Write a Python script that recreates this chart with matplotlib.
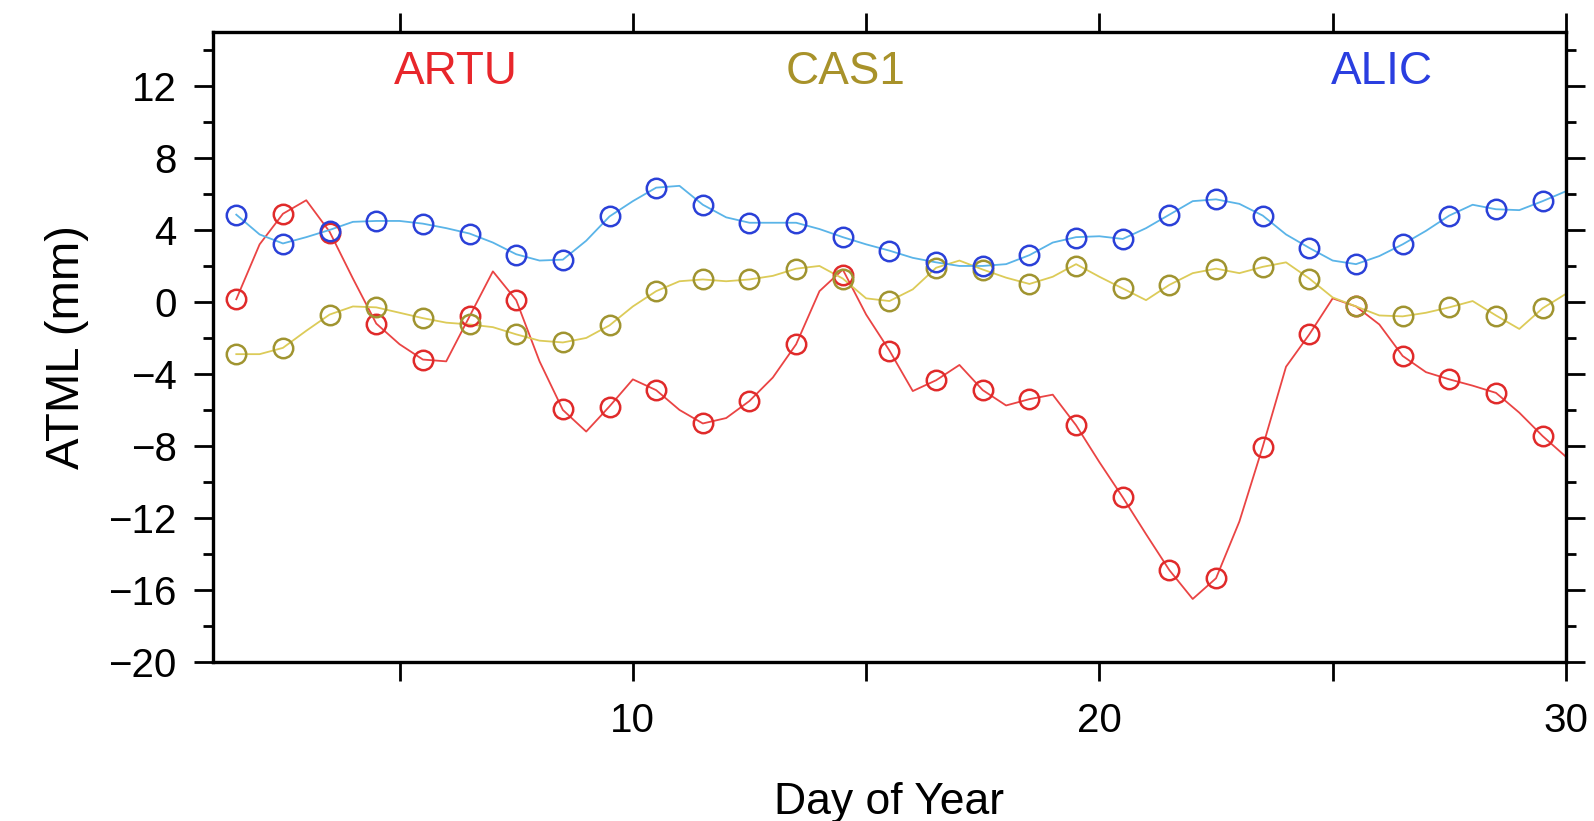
import numpy as np
import matplotlib
matplotlib.use('Agg')
import matplotlib.pyplot as plt
from matplotlib.ticker import MultipleLocator, FixedLocator

plt.rcParams['font.family'] = ['Liberation Sans', 'DejaVu Sans']

# === 数据 ===
# 日均值（圆圈），位于每天中午 1.5 ... 29.5
daily_days = np.arange(1.5, 30.0, 1.0)
artu_daily = [0.15, 4.9, 3.85, -1.25, -3.2, -0.8, 0.1, -5.95, -5.85, -4.9,
              -6.75, -5.5, -2.35, 1.5, -2.7, -4.35, -4.9, -5.4, -6.85, -10.85,
              -14.9, -15.35, -8.05, -1.8, -0.25, -3.0, -4.3, -5.05, -7.45]
cas1_daily = [-2.9, -2.55, -0.7, -0.3, -0.9, -1.25, -1.8, -2.25, -1.3, 0.6,
              1.25, 1.25, 1.85, 1.25, 0.05, 1.9, 1.8, 1.0, 2.0, 0.75,
              0.95, 1.85, 1.95, 1.25, -0.25, -0.8, -0.3, -0.8, -0.35]
alic_daily = [4.85, 3.2, 3.95, 4.5, 4.35, 3.8, 2.6, 2.35, 4.8, 6.35,
              5.4, 4.4, 4.4, 3.6, 2.85, 2.2, 2.0, 2.6, 3.55, 3.5,
              4.85, 5.7, 4.8, 3.0, 2.1, 3.2, 4.8, 5.15, 5.6]

# 连续曲线（半天间隔读取）
curve_days = np.arange(1.5, 30.01, 0.5)
artu_curve = [0.15, 3.2, 4.9, 5.65, 3.9, 1.3, -1.2, -2.35, -3.2, -3.3,
              -0.8, 1.7, 0.1, -3.3, -6.0, -7.2, -5.8, -4.3, -4.9, -6.0,
              -6.75, -6.45, -5.5, -4.2, -2.35, 0.6, 1.8, -0.7, -2.7, -4.95,
              -4.35, -3.5, -4.9, -5.75, -5.4, -5.15, -6.85, -8.9, -10.85, -12.9,
              -14.9, -16.5, -15.35, -12.2, -8.05, -3.6, -1.8, 0.2, -0.25, -1.25,
              -3.0, -3.9, -4.3, -4.65, -5.05, -6.15, -7.45, -8.6]
cas1_curve = [-2.9, -2.9, -2.55, -1.6, -0.7, -0.25, -0.3, -0.6, -0.9, -1.15,
              -1.25, -1.4, -1.8, -2.15, -2.25, -2.0, -1.3, -0.25, 0.6, 1.15,
              1.25, 1.15, 1.25, 1.45, 1.85, 2.0, 1.3, 0.2, 0.05, 0.7,
              1.9, 2.3, 1.8, 1.35, 1.0, 1.4, 2.1, 1.4, 0.75, 0.1,
              0.95, 1.6, 1.85, 1.6, 1.95, 2.2, 1.3, 0.25, -0.25, -0.75,
              -0.8, -0.6, -0.3, 0.05, -0.75, -1.5, -0.35, 0.45]
alic_curve = [4.85, 3.75, 3.25, 3.6, 4.0, 4.45, 4.5, 4.5, 4.35, 4.1,
              3.8, 3.3, 2.65, 2.3, 2.35, 3.4, 4.75, 5.6, 6.35, 6.45,
              5.4, 4.7, 4.4, 4.4, 4.4, 4.05, 3.6, 3.2, 2.85, 2.45,
              2.2, 2.0, 2.0, 2.1, 2.6, 3.3, 3.6, 3.65, 3.5, 4.1,
              4.85, 5.6, 5.7, 5.45, 4.8, 3.75, 3.0, 2.3, 2.1, 2.55,
              3.2, 3.95, 4.8, 5.4, 5.15, 5.1, 5.6, 6.15]

stations = ['ARTU', 'CAS1', 'ALIC']
label_pos = [(6.2, 12.8), (14.55, 12.8), (26.05, 12.8)]
text_colors = ['#e8262b', '#a8922a', '#2a3ee0']
marker_colors = ['#e02a2a', '#a09430', '#2a40d8']
line_colors = ['#ea4444', '#dccb58', '#5ab4e8']

# === 绘图 ===
fig = plt.figure(figsize=(15.94, 8.21), dpi=100)
ax = fig.add_axes([0.1336, 0.1937, 0.8488, 0.7674])

curves = [artu_curve, cas1_curve, alic_curve]
dailies = [artu_daily, cas1_daily, alic_daily]
for i in range(3):
    ax.plot(curve_days, curves[i], color=line_colors[i], linewidth=1.3, zorder=2)
for i in range(3):
    ax.plot(daily_days, dailies[i], linestyle='none', marker='o', markersize=14,
            markerfacecolor='none', markeredgecolor=marker_colors[i],
            markeredgewidth=1.8, zorder=3)
    ax.text(label_pos[i][0], label_pos[i][1], stations[i], color=text_colors[i],
            fontsize=33, ha='center', va='center')

ax.set_xlim(1, 30)
ax.set_ylim(-20, 15)
ax.xaxis.set_major_locator(FixedLocator([10, 20, 30]))
ax.xaxis.set_minor_locator(FixedLocator([5, 15, 25]))
ax.yaxis.set_major_locator(FixedLocator(list(range(-20, 13, 4))))
ax.yaxis.set_minor_locator(MultipleLocator(2))

ax.tick_params(which='both', direction='out', top=True, right=True,
               labeltop=False, labelright=False, width=2, labelsize=29)
ax.tick_params(which='major', length=14, pad=12)
ax.tick_params(axis='x', which='major', pad=15)
ax.tick_params(axis='y', which='minor', length=7)
ax.tick_params(axis='x', which='minor', length=14)
for s in ax.spines.values():
    s.set_linewidth(2.4)

ax.set_xlabel('Day of Year', fontsize=32, labelpad=30)
ax.set_ylabel('ATML (mm)', fontsize=34, labelpad=14)

fig.savefig('out.png', dpi=100)
